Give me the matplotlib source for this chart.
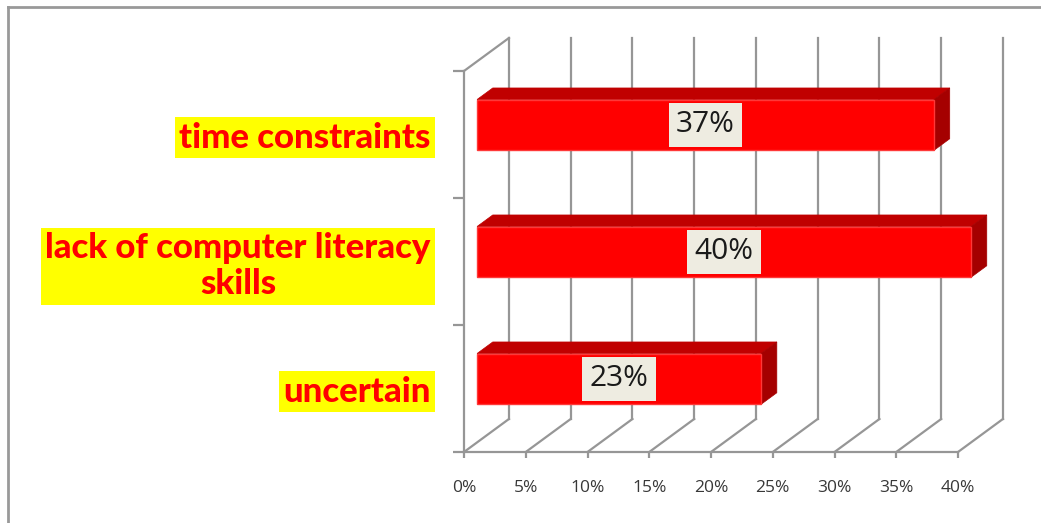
import matplotlib
matplotlib.use("Agg")
import matplotlib.pyplot as plt
from matplotlib.patches import Polygon, Rectangle
from matplotlib.lines import Line2D

# data
categories = ["uncertain", "lack of computer literacy\nskills", "time constraints"]
values = [23, 40, 37]
value_labels = ["23%", "40%", "37%"]
xticks = [0, 5, 10, 15, 20, 25, 30, 35, 40]
xtick_labels = ["0%", "5%", "10%", "15%", "20%", "25%", "30%", "35%", "40%"]

# fake 3d depth (data units)
DX, DY = 3.64, 0.26
d0, d1 = 0.29, 0.64
half_h = 0.2
grid_col = "#969696"

fig = plt.figure(figsize=(10.41, 5.23), dpi=100)
ax = fig.add_axes([464/1041, 71/523, 494/1041, 381/523])
ax.set_xlim(0, 40)
ax.set_ylim(0, 3)

# walls / floor gridlines
for x in xticks:
    ax.add_line(Line2D([x, x + DX], [0, DY], color=grid_col, lw=1.6, clip_on=False, zorder=1))
    ax.add_line(Line2D([x + DX, x + DX], [DY, 3 + DY], color=grid_col, lw=1.6, clip_on=False, zorder=1))
ax.add_line(Line2D([0, DX], [3, 3 + DY], color=grid_col, lw=1.6, clip_on=False, zorder=1))

# bars
for i, v in enumerate(values):
    c = i + 0.5
    y0, y1 = c - half_h, c + half_h
    fx0, fx1 = d0 * DX, v + d0 * DX
    bx0, bx1 = d1 * DX, v + d1 * DX
    top = Polygon([(fx0, y1 + d0*DY), (fx1, y1 + d0*DY), (bx1, y1 + d1*DY), (bx0, y1 + d1*DY)],
                  closed=True, facecolor="#c00000", edgecolor="#c00000", lw=0.5, zorder=3, clip_on=False)
    side = Polygon([(fx1, y0 + d0*DY), (fx1, y1 + d0*DY), (bx1, y1 + d1*DY), (bx1, y0 + d1*DY)],
                   closed=True, facecolor="#a50000", edgecolor="#a50000", lw=0.5, zorder=3, clip_on=False)
    front = Rectangle((fx0, y0 + d0*DY), v, 2*half_h, facecolor="#ff0000",
                      edgecolor="#ff3838", lw=1, zorder=4, clip_on=False)
    ax.add_patch(top)
    ax.add_patch(side)
    ax.add_patch(front)
    ax.text(v/2 + d0*DX, c + d0*DY, value_labels[i], ha="center", va="center",
            fontsize=21.5, family="Open Sans", color="#1a1a1a", zorder=5,
            bbox=dict(boxstyle="square,pad=0.25", facecolor="#eeece1", edgecolor="none"))

# axes styling
for s in ["top", "right"]:
    ax.spines[s].set_visible(False)
for s in ["left", "bottom"]:
    ax.spines[s].set_color(grid_col)
    ax.spines[s].set_linewidth(1.6)
ax.set_xticks(xticks)
ax.set_xticklabels(xtick_labels, fontsize=12.5, family="Open Sans", color="#383838")
ax.tick_params(axis="x", length=4, width=1.6, color=grid_col, pad=16)
ax.set_yticks([0, 1, 2, 3])
ax.set_yticklabels([])
ax.tick_params(axis="y", which="major", length=8, width=1.6, color=grid_col)
ax.set_yticks([0.5, 1.5, 2.5], minor=True)
ax.set_yticklabels(categories, minor=True, fontsize=25, family="Lato", fontweight="black",
                   color="#ff0000", linespacing=1.15)
ax.tick_params(axis="y", which="minor", length=0, pad=24)
for t in ax.get_yticklabels(minor=True):
    t.set_multialignment("center")
    t.set_bbox(dict(boxstyle="square,pad=0.12", facecolor="#ffff00", edgecolor="none"))
ax.patch.set_visible(False)

# chart border (top and left visible)
fig.add_artist(Line2D([8/1041, 1], [1 - 7/523, 1 - 7/523], color="#999999", lw=2))
fig.add_artist(Line2D([8/1041, 8/1041], [0, 1 - 7/523], color="#999999", lw=2))

fig.savefig("out.png", dpi=100)
